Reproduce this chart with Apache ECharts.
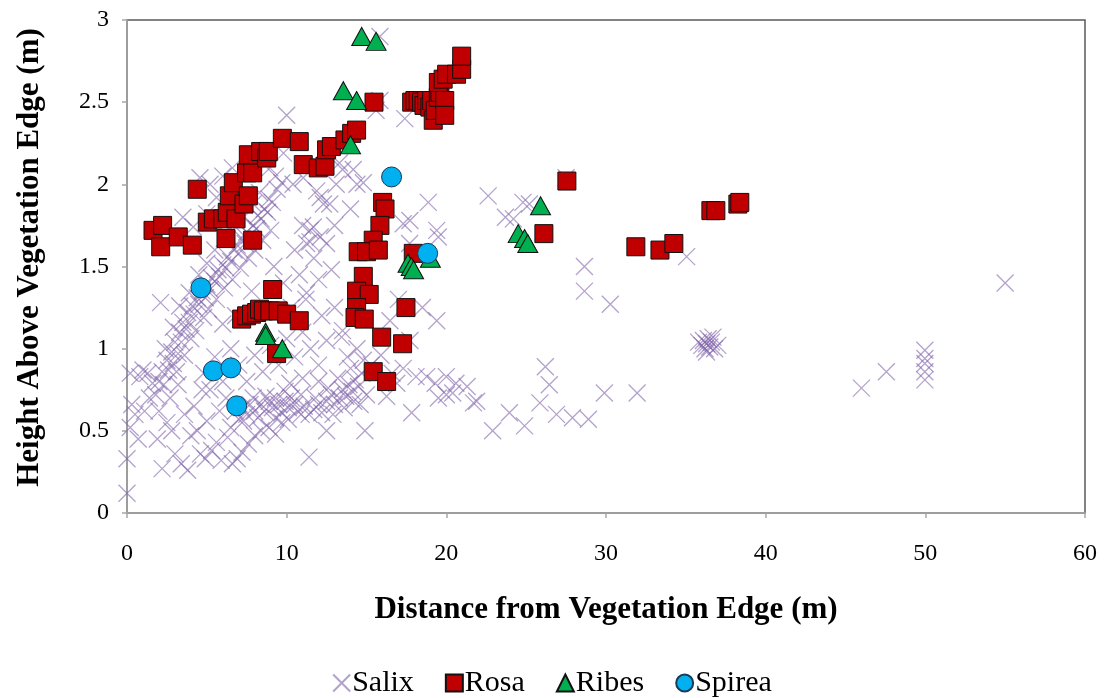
<!DOCTYPE html>
<html>
<head>
<meta charset="utf-8">
<script src="https://cdn.jsdelivr.net/npm/echarts@6/dist/echarts.min.js"></script>
<style>
html,body{margin:0;padding:0;background:#fff;}
#chart{width:1104px;height:698px;}
</style>
</head>
<body>
<div id="chart"></div>
<script>
var seriesNames = ['Salix', 'Rosa', 'Ribes', 'Spirea'];
var xTicks = [0, 10, 20, 30, 40, 50, 60];
var yTicks = [0, 0.5, 1, 1.5, 2, 2.5, 3];

var salix = [
[0.0,0.12],[0.0,0.33],[0.2,0.52],[0.3,0.66],[0.8,0.83],[1.3,0.85],[1.6,0.79],[1.1,0.62],[0.7,0.45],[1.9,0.45],
[2.2,0.27],[2.0,0.62],[2.5,0.55],[2.8,0.5],[3.0,0.36],[3.4,0.3],[3.8,0.26],[4.0,0.47],[4.4,0.5],[4.6,0.36],
[4.9,0.33],[5.3,0.38],[5.6,0.43],[5.9,0.32],[6.3,0.46],[6.6,0.3],[6.9,0.33],[7.2,0.37],[7.6,0.42],[8.0,0.47],
[8.4,0.5],[8.9,0.52],[9.3,0.48],[9.7,0.55],[3.6,0.6],[5.0,0.56],[5.8,0.62],[6.5,0.52],[7.3,0.56],[11.4,0.34],
[12.5,0.5],[14.9,0.5],[1.4,0.7],[2.7,0.7],[4.2,0.65],[4.7,0.75],[3.2,0.78],[0.5,0.6],
[1.8,0.72],[2.0,0.8],[2.2,0.86],[2.3,0.78],[2.5,0.93],[2.6,0.87],[2.8,0.98],[2.9,0.91],[3.0,1.04],[3.2,0.97],
[3.3,1.1],[3.4,1.04],[3.5,1.16],[3.7,1.12],[3.8,1.22],[3.9,1.16],[4.1,1.26],[4.2,1.21],[4.4,1.31],[4.5,1.27],
[4.7,1.35],[4.9,1.31],[5.0,1.39],[5.2,1.36],[5.3,1.43],[5.5,1.41],[5.7,1.48],[5.8,1.44],[6.0,1.51],[6.2,1.49],
[6.3,1.56],[6.5,1.53],[6.7,1.6],[6.9,1.63],[7.0,1.58],[7.2,1.67],[7.4,1.64],[7.5,1.71],[7.7,1.69],[7.9,1.75],
[8.1,1.73],[8.2,1.81],[8.4,1.79],[8.6,1.85],[8.8,1.83],[8.9,1.91],[9.1,1.89],[9.4,1.97],[9.7,2.01],
[3.1,0.86],[3.6,0.96],[4.0,1.06],[4.3,1.11],[4.8,1.19],[5.1,1.24],[5.6,1.3],[6.1,1.37],[6.6,1.42],[7.1,1.49],
[7.6,1.55],[8.0,1.6],[8.5,1.66],[9.0,1.72],
[2.4,1.0],[2.9,1.13],[3.3,1.26],[3.9,1.34],[4.5,1.45],[5.0,1.52],[5.5,1.6],[6.1,1.67],[6.8,1.74],[7.3,1.8],
[7.9,1.88],[8.3,1.95],[2.1,1.28],[1.0,0.87],[0.2,0.85],
[3.5,1.8],[4.15,1.74],[4.57,2.04],[5.0,1.82],[5.2,2.0],[5.6,1.92],[6.0,2.05],[6.6,2.1],[7.0,2.0],[8.95,2.1],
[9.8,2.19],[10.0,2.42],[9.3,2.05],[10.4,2.0],
[5.5,0.95],[6.0,0.8],[6.5,1.0],[7.0,0.9],[7.5,0.8],[8.0,0.96],[8.5,0.86],[9.0,1.02],[9.5,0.9],[10.0,1.06],
[10.5,0.95],[11.0,1.1],[11.5,1.0],[12.0,0.9],[12.5,1.05],[4.8,0.85],[5.2,0.75],[6.2,0.7],[10.3,1.25],[11.2,1.3],
[9.8,1.4],[10.8,1.45],[11.25,1.34],[12.8,1.48],[11.46,1.65],[13.5,1.11],[13.44,1.07],[12.2,1.2],[11.7,1.55],[12.0,1.42],
[13.0,1.25],[10.5,1.6],[11.0,1.75],[9.2,1.5],[6.8,1.2],[7.8,1.35],[6.0,1.15],
[6.8,0.62],[7.0,0.57],[7.2,0.64],[7.5,0.6],[7.7,0.66],[8.0,0.62],[8.2,0.58],[8.4,0.66],[8.6,0.62],[8.9,0.68],
[9.1,0.64],[9.3,0.7],[9.5,0.66],[9.7,0.61],[9.9,0.68],[10.1,0.64],[10.3,0.7],[10.5,0.66],[10.7,0.62],[10.9,0.6],
[11.1,0.65],[11.4,0.6],[11.7,0.63],[12.0,0.66],[12.2,0.61],[12.5,0.68],[12.8,0.72],[13.0,0.66],[13.3,0.7],[13.5,0.75],
[13.7,0.71],[13.9,0.78],[14.1,0.74],[14.3,0.81],[14.5,0.77],[14.7,0.85],[14.2,0.68],[13.6,0.64],[12.9,0.6],[10.9,0.72],
[9.9,0.74],[8.7,0.71],[7.9,0.7],[10.1,0.57],[9.3,0.58],[11.8,0.7],[12.6,0.76],[13.2,0.82],[14.0,0.88],[14.8,0.93],
[13.8,0.95],[14.4,1.0],[11.0,0.82],[12.0,0.8],[10.2,0.79],[15.0,0.72],[14.6,0.66],
[15.3,0.9],[15.9,0.96],[16.26,0.71],[16.6,0.85],[16.9,0.79],[17.3,0.88],[17.83,0.61],[18.1,0.83],[18.77,0.83],[19.3,0.79],
[19.5,0.7],[20.0,0.72],[20.0,0.83],[20.4,0.73],[20.6,0.79],[21.3,0.77],[21.7,0.67],[21.9,0.68],[22.9,0.5],[23.95,0.61],
[24.9,0.53],[25.86,0.67],[26.2,0.89],[26.45,0.78],[26.9,0.6],[27.9,0.58],[28.9,0.57],[29.9,0.73],[31.95,0.73],[16.47,1.17],
[17.72,1.05],[19.4,1.17],[17.0,1.3],[18.5,1.25],
[28.65,1.5],[28.65,1.35],[30.27,1.27],[35.05,1.56],[46.0,0.76],[47.56,0.86],[49.97,0.99],[49.97,0.94],[49.97,0.91],[49.97,0.86],
[49.97,0.81],[55.0,1.4],
[35.8,1.04],[36.0,1.02],[36.1,1.05],[36.2,1.0],[36.3,1.03],[36.4,1.06],[36.5,1.01],[36.6,1.04],[36.8,1.0],[37.0,1.02],
[36.3,0.98],[36.7,1.07],
[22.62,1.93],[24.8,1.89],[24.2,1.79],[23.7,1.8],[25.2,1.88],[27.5,2.04],[18.87,1.89],[17.72,1.78],[19.5,1.68],[17.7,1.64],
[19.4,1.72],[17.4,2.4],[15.84,2.9],[15.84,2.51],[15.6,2.45],
[11.04,2.04],[11.88,1.96],[12.3,1.88],[13.1,2.0],[13.5,2.09],[14.4,2.0],[14.17,2.09],[14.8,2.01],[13.3,2.13],[12.1,1.92],
[12.7,1.88],[11.67,1.74],[11.46,1.72],[12.1,1.68],[11.25,1.64],[12.5,1.64],[17.3,1.76],[14.0,1.85],[13.0,1.75]
];

var rosa = [
[1.63,1.72],[2.11,1.62],[2.23,1.75],[3.21,1.68],[4.09,1.63],[4.40,1.97],[5.03,1.77],[5.41,1.79],[6.0,1.79],[6.20,1.67],
[6.28,1.83],[6.41,1.93],[6.66,2.01],[6.83,1.79],[7.33,1.88],[7.6,1.93],[7.87,1.66],[7.49,2.07],[7.87,2.07],[7.6,2.18],
[8.37,2.20],[8.75,2.16],[8.85,2.20],[9.73,2.28],[10.79,2.26],[11.04,2.12],[11.98,2.10],[12.4,2.11],[12.5,2.21],[12.8,2.23],
[13.65,2.27],[14.07,2.31],[14.38,2.33],[15.47,2.50],
[17.83,2.50],[18.03,2.51],[18.24,2.51],[18.45,2.50],[18.6,2.48],[18.77,2.51],[18.97,2.47],[19.08,2.51],[19.18,2.39],[19.3,2.45],
[19.5,2.53],[19.6,2.56],[19.9,2.51],[19.9,2.42],[19.5,2.62],[19.8,2.64],[20.02,2.67],[20.64,2.67],[20.96,2.70],[20.96,2.78],
[16.01,1.89],[16.16,1.85],[15.84,1.75],[15.42,1.66],[14.48,1.59],[15.0,1.59],[15.74,1.60],[14.8,1.44],[14.38,1.35],[15.17,1.33],
[17.47,1.25],[14.38,1.25],[14.28,1.19],[14.86,1.18],[15.95,1.07],[17.26,1.03],[15.42,0.86],[16.26,0.80],[17.93,1.58],
[9.12,1.36],[7.18,1.18],[7.49,1.20],[7.8,1.21],[8.12,1.22],[8.3,1.24],[8.54,1.23],[8.95,1.23],[9.47,1.23],[10.0,1.21],
[10.79,1.17],[9.37,0.97],
[27.55,2.02],[26.11,1.70],[31.87,1.62],[33.38,1.60],[34.25,1.64],[36.57,1.84],[36.88,1.84],[38.26,1.88],[38.38,1.89]
];

var ribes = [
[14.7,2.90],[15.6,2.87],[13.55,2.57],[14.38,2.51],[14.0,2.24],[25.9,1.87],[24.5,1.70],[24.9,1.67],[25.1,1.64],
[17.6,1.52],[17.8,1.50],[17.95,1.48],[19.0,1.55],[8.68,1.10],[8.68,1.08],[9.73,1.00]
];

var spirea = [
[4.63,1.37],[5.41,0.865],[6.51,0.883],[6.87,0.652],[16.57,2.045],[18.83,1.58]
];

var crossPath = 'path://M0,0L10,10M10,0L0,10';
var serif = "'Liberation Serif','Times New Roman',serif";

var chart = echarts.init(document.getElementById('chart'));
chart.setOption({
  animation: false,
  backgroundColor: '#ffffff',
  grid: {left: 127, top: 20, right: 19, bottom: 185, show: true, borderColor: '#5a5a5a', borderWidth: 1.5, backgroundColor: 'transparent'},
  xAxis: {
    type: 'value', min: xTicks[0], max: xTicks[xTicks.length - 1], interval: 10,
    name: 'Distance from Vegetation Edge (m)', nameLocation: 'middle', nameGap: 81,
    nameTextStyle: {fontFamily: serif, fontWeight: 'bold', fontSize: 31, color: '#000'},
    axisLine: {show: true, lineStyle: {color: '#a6a6a6', width: 1.5}},
    axisTick: {show: true, inside: false, length: 5, lineStyle: {color: '#a6a6a6', width: 1.5}},
    axisLabel: {fontFamily: serif, fontSize: 24, color: '#000', margin: 29},
    splitLine: {show: false}
  },
  yAxis: {
    type: 'value', min: yTicks[0], max: yTicks[yTicks.length - 1], interval: 0.5,
    name: 'Height Above Vegetation Edge (m)', nameLocation: 'middle', nameGap: 82,
    nameTextStyle: {fontFamily: serif, fontWeight: 'bold', fontSize: 31, color: '#000', padding: [0, 0, 0, 18]},
    axisLine: {show: true, lineStyle: {color: '#a6a6a6', width: 1.5}},
    axisTick: {show: true, inside: false, length: 5, lineStyle: {color: '#a6a6a6', width: 1.5}},
    axisLabel: {fontFamily: serif, fontSize: 24, color: '#000', margin: 18},
    splitLine: {show: false}
  },
  legend: {
    bottom: 0, left: 'center', padding: 0, itemWidth: 17, itemHeight: 17, itemGap: 31,
    textStyle: {fontFamily: serif, fontSize: 30, color: '#000', padding: [0, 0, 0, -3]},
    data: [
      {name: seriesNames[0], icon: crossPath},
      {name: seriesNames[1], icon: 'rect'},
      {name: seriesNames[2], icon: 'triangle'},
      {name: seriesNames[3], icon: 'circle'}
    ]
  },
  series: [
    {name: seriesNames[0], type: 'scatter', data: salix, symbol: crossPath, symbolSize: 17,
     itemStyle: {color: 'rgba(0,0,0,0)', borderColor: 'rgba(128,100,170,0.6)', borderWidth: 1.3, opacity: 1}},
    {name: seriesNames[1], type: 'scatter', data: rosa, symbol: 'rect', symbolSize: 18,
     itemStyle: {color: '#c00000', borderColor: '#111', borderWidth: 1, opacity: 1}},
    {name: seriesNames[2], type: 'scatter', data: ribes, symbol: 'triangle', symbolSize: [20, 18],
     itemStyle: {color: '#00b050', borderColor: '#111', borderWidth: 1, opacity: 1}},
    {name: seriesNames[3], type: 'scatter', data: spirea, symbol: 'circle', symbolSize: 20,
     itemStyle: {color: '#00b0f0', borderColor: '#1a3a55', borderWidth: 1, opacity: 1}}
  ]
});
</script>
</body>
</html>
